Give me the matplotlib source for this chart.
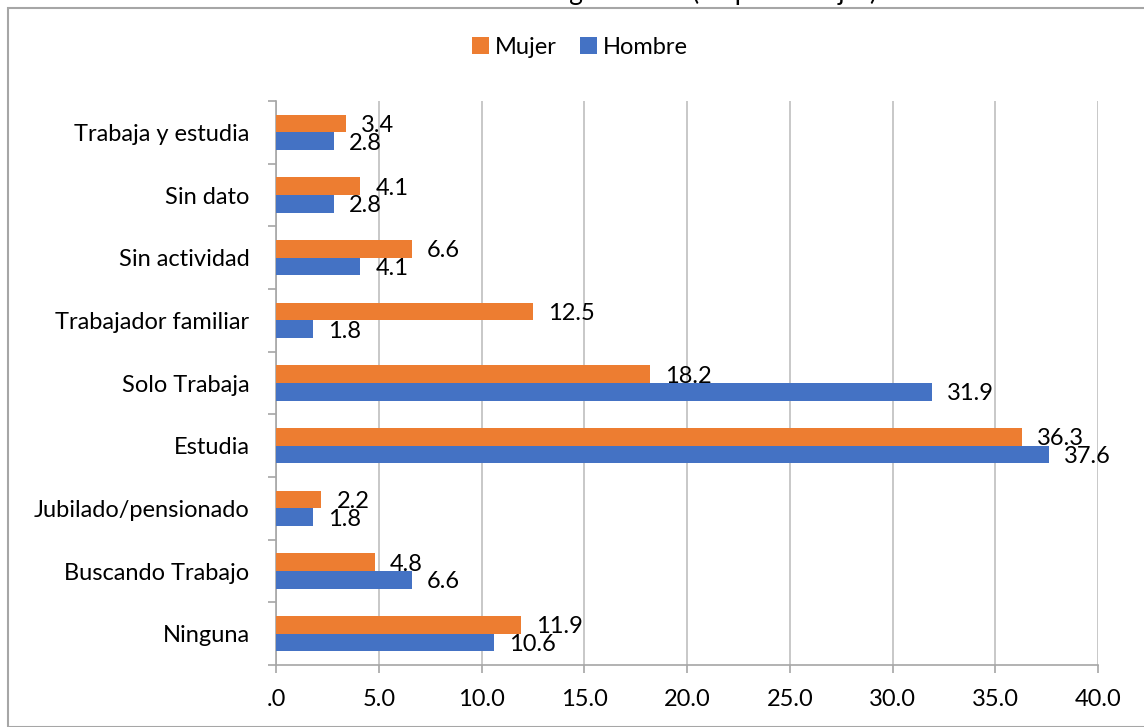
import matplotlib.pyplot as plt
import numpy as np
from matplotlib.patches import Rectangle
from matplotlib.ticker import FixedLocator, FuncFormatter

plt.rcParams['font.family'] = ['Lato', 'DejaVu Sans']

categories = ['Ninguna', 'Buscando Trabajo', 'Jubilado/pensionado', 'Estudia',
              'Solo Trabaja', 'Trabajador familiar', 'Sin actividad', 'Sin dato',
              'Trabaja y estudia']
mujer = [11.9, 4.8, 2.2, 36.3, 18.2, 12.5, 6.6, 4.1, 3.4]
hombre = [10.6, 6.6, 1.8, 37.6, 31.9, 1.8, 4.1, 2.8, 2.8]
title = 'Gráfico 4. Actividad de seguimiento (en porcentajes)'

c_muj = '#ED7D31'
c_hom = '#4472C4'
gray = '#A6A6A6'
fs = 17

W, H = 1144, 727
fig = plt.figure(figsize=(W / 100, H / 100), dpi=100)

# outer chart frame, cut by the right edge
fig.patches.append(Rectangle((8 / W, 0), 1.2, 1 - 8 / H, transform=fig.transFigure,
                             fill=False, edgecolor=gray, lw=1.5))
# title, mostly cut off at the top as in the source
fig.text(575 / W, 1 + 8 / H, title, ha='center', va='center', fontsize=19)

ax = fig.add_axes([276 / W, 1 - 665 / H, (1098 - 276) / W, (665 - 101) / H])

y = np.arange(len(categories))
h = 0.28
ax.barh(y + h / 2, mujer, height=h, color=c_muj, label='Mujer', zorder=3)
ax.barh(y - h / 2, hombre, height=h, color=c_hom, label='Hombre', zorder=3)

for i in range(len(categories)):
    ax.annotate(f'{mujer[i]:.1f}', (mujer[i], y[i] + h / 2), xytext=(11, 0),
                textcoords='offset points', va='center_baseline', ha='left', fontsize=fs)
    ax.annotate(f'{hombre[i]:.1f}', (hombre[i], y[i] - h / 2), xytext=(11, 0),
                textcoords='offset points', va='center_baseline', ha='left', fontsize=fs)

ax.set_xlim(0, 40)
ax.set_ylim(-0.5, len(categories) - 0.5)
ax.set_xticks(np.arange(0, 41, 5))
ax.xaxis.set_major_formatter(FuncFormatter(lambda v, p: '.0' if v == 0 else f'{v:.1f}'))
ax.set_yticks(y)
ax.set_yticklabels(categories)
ax.yaxis.set_minor_locator(FixedLocator(np.arange(-0.5, len(categories), 1)))
ax.tick_params(axis='y', which='major', length=0, pad=19, labelsize=fs)
ax.tick_params(axis='y', which='minor', length=6, color=gray, width=1.2)
ax.tick_params(axis='x', length=6, color=gray, width=1.2, pad=11, labelsize=fs)

ax.grid(axis='x', color='#BFBFBF', lw=1.2, zorder=0)
for s in ['top', 'right']:
    ax.spines[s].set_visible(False)
for s in ['left', 'bottom']:
    ax.spines[s].set_color(gray)
    ax.spines[s].set_linewidth(1.2)

fig.legend(loc='center', bbox_to_anchor=(580 / W, 1 - 47 / H), ncol=2, frameon=False,
           fontsize=fs, handlelength=0.7, handleheight=0.7, handletextpad=0.25,
           columnspacing=1.0)

fig.savefig('out.png', dpi=100)
